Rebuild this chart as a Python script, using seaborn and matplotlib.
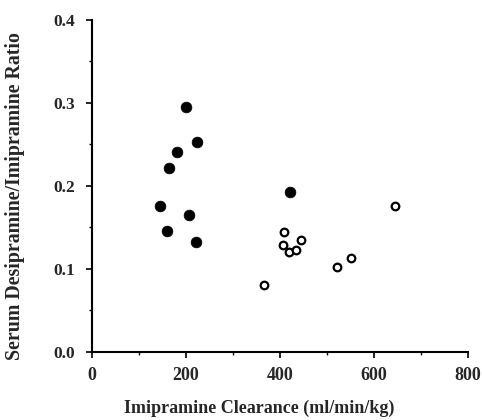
import numpy as np
import pandas as pd
import seaborn as sns
import matplotlib.pyplot as plt
from matplotlib.ticker import MultipleLocator

# filled circles
filled_clearance = [200, 223, 181, 164, 145, 206, 160, 221, 421]
filled_ratio = [0.295, 0.253, 0.240, 0.221, 0.175, 0.165, 0.145, 0.132, 0.192]

# open circles
open_clearance = [408, 407, 444, 420, 433, 366, 521, 551, 645]
open_ratio = [0.144, 0.129, 0.134, 0.120, 0.122, 0.080, 0.102, 0.113, 0.175]

x_ticks = [0, 200, 400, 600, 800]
y_ticks = [0.0, 0.1, 0.2, 0.3, 0.4]

df = pd.DataFrame({
    "clearance": filled_clearance + open_clearance,
    "ratio": filled_ratio + open_ratio,
    "group": ["filled"] * len(filled_clearance) + ["open"] * len(open_clearance),
})

sns.set_style("ticks")
plt.rcParams["font.family"] = ["Liberation Serif", "DejaVu Serif"]
plt.rcParams["font.weight"] = "bold"

fig = plt.figure(figsize=(4.82, 4.2), dpi=100)
ax = fig.add_axes([0.191, 0.163, 0.780, 0.790])

sns.scatterplot(data=df[df.group == "filled"], x="clearance", y="ratio", ax=ax,
                color="black", s=60, edgecolor="black", linewidth=0.5, legend=False)
sns.scatterplot(data=df[df.group == "open"], x="clearance", y="ratio", ax=ax,
                facecolor="white", s=30, edgecolor="black", linewidth=1.6, legend=False)

ax.set_xlim(0, 800)
ax.set_ylim(0, 0.4)
ax.set_xticks(x_ticks)
ax.set_yticks(y_ticks)
ax.set_xticklabels([str(v) for v in x_ticks], fontsize=13, fontweight="bold")
ax.set_yticklabels([f"{v:.1f}" for v in y_ticks], fontsize=12.5, fontweight="bold")
ax.xaxis.set_minor_locator(MultipleLocator(100))
ax.yaxis.set_minor_locator(MultipleLocator(0.05))
ax.tick_params(which="major", length=4, width=1.2, direction="out", color="black")
ax.tick_params(which="minor", length=2, width=1.0, direction="out", color="black")
ax.tick_params(axis="x", pad=7)
ax.tick_params(axis="y", pad=8)

for side in ["top", "right"]:
    ax.spines[side].set_visible(False)
for side in ["left", "bottom"]:
    ax.spines[side].set_linewidth(1.5)
    ax.spines[side].set_color("black")

ax.set_xlabel("Imipramine Clearance (ml/min/kg)", fontsize=13, fontweight="bold", va="center")
ax.set_ylabel("Serum Desipramine/Imipramine Ratio", fontsize=14.3, fontweight="bold", va="center")
ax.xaxis.set_label_coords(0.444, -0.17)
ax.yaxis.set_label_coords(-0.205, 0.468)

fig.savefig("out.png", dpi=100)
